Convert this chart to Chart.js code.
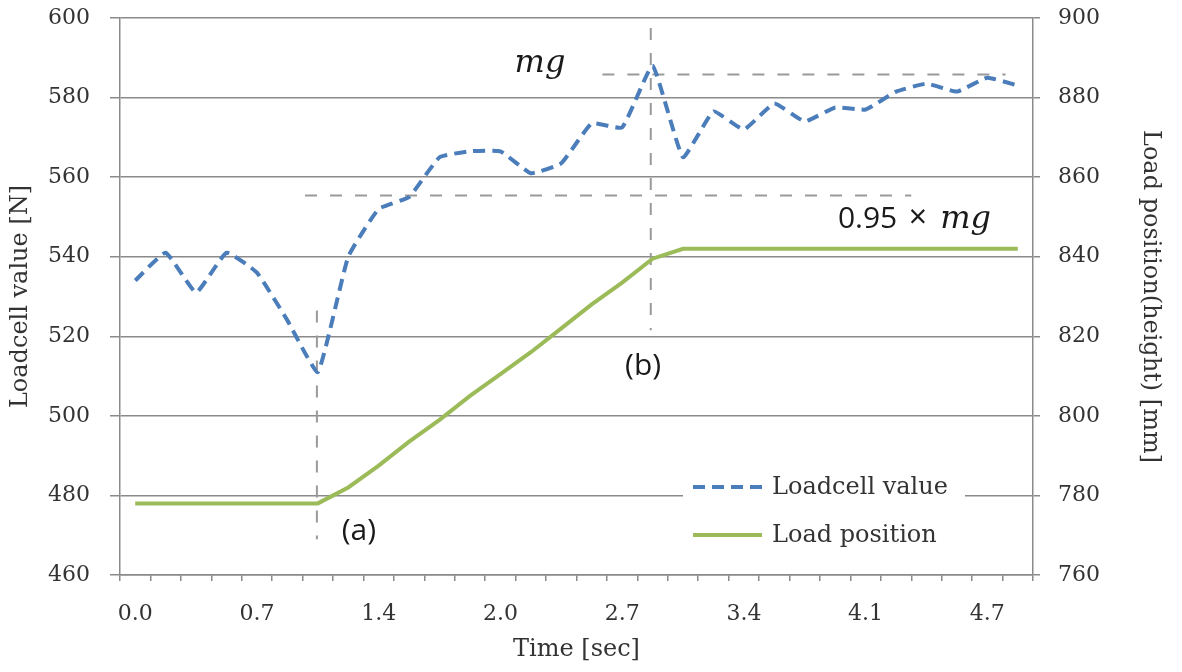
<!DOCTYPE html>
<html>
<head>
<meta charset="utf-8">
<script src="https://cdn.jsdelivr.net/npm/chart.js@4.4.1/dist/chart.umd.min.js"></script>
<style>
  html, body { margin: 0; padding: 0; background: #fff; }
  #wrap { width: 1182px; height: 672px; }
</style>
</head>
<body>
<div id="wrap"><canvas id="loadChart" width="1182" height="672"></canvas></div>
<script>
// sample times [sec] (only every 4th one is printed on the axis)
const times = ['0.0','0.2','0.3','0.5','0.7','0.8','1.0','1.2','1.4','1.5',
               '1.7','1.9','2.0','2.2','2.4','2.5','2.7','2.9','3.0','3.2',
               '3.4','3.5','3.7','3.9','4.1','4.2','4.4','4.6','4.7','4.9'];

// Loadcell value [N]
const loadcell = [534, 541, 531, 541, 536, 524, 511, 540, 552, 555,
                  565, 566.5, 566.5, 561, 563.5, 573.5, 572.5, 588, 565, 576.5,
                  572, 578.5, 574, 577.5, 577, 581.5, 583.5, 581.5, 585, 583];

// Load position (height) [mm]
const position = [778, 778, 778, 778, 778, 778, 778, 782, 787.5, 793.5,
                  799, 805, 810.5, 816, 822, 828, 833.5, 839.5, 842, 842,
                  842, 842, 842, 842, 842, 842, 842, 842, 842, 842];

const leftTicks = [460, 600, 20];
const rightTicks = [760, 900, 20];

// reference marks, in data units (x = sample index, y = loadcell scale)
const refLines = [
  { x0: 5.97, x1: 5.97, y0: 526.5, y1: 469 },     // (a) start of lift
  { x0: 16.94, x1: 16.94, y0: 597.5, y1: 521.5 }, // (b) peak
  { x0: 15.35, x1: 28.6, y0: 585.8, y1: 585.8 },  // mg
  { x0: 5.58, x1: 25.5, y0: 555.4, y1: 555.4 }    // 0.95 mg
];
const refTexts = [
  { text: 'mg', x: 13.3, y: 586.4, align: 'center', base: 'alphabetic', font: 'italic 32px "DejaVu Serif"' },
  { text: '0.95', x: 23.09, y: 547.2, align: 'left', base: 'alphabetic', font: '30px "Open Sans"' },
  { text: '×', x: 25.72, y: 547.2, align: 'center', base: 'alphabetic', font: '32px "Open Sans"' },
  { text: 'mg', x: 26.45, y: 547.2, align: 'left', base: 'alphabetic', font: 'italic 32px "DejaVu Serif"' },
  { text: '(a)', x: 7.35, y: 471, align: 'center', base: 'middle', font: '30px "Open Sans"' },
  { text: '(b)', x: 16.69, y: 512.4, align: 'center', base: 'middle', font: '30px "Open Sans"' }
];

const gridGray = '#8a8a8a';
const textGray = '#333333';
const serif = '"DejaVu Serif", serif';

const refMarks = {
  id: 'refMarks',
  beforeDatasetsDraw(chart) {
    const ctx = chart.ctx, xs = chart.scales.x, ys = chart.scales.y;
    ctx.save();
    ctx.strokeStyle = '#9a9a9a';
    ctx.lineWidth = 2;
    ctx.setLineDash([12, 13]);
    refLines.forEach(l => {
      ctx.beginPath();
      ctx.moveTo(xs.getPixelForValue(l.x0), ys.getPixelForValue(l.y0));
      ctx.lineTo(xs.getPixelForValue(l.x1), ys.getPixelForValue(l.y1));
      ctx.stroke();
    });
    ctx.restore();
  },
  afterDraw(chart) {
    const ctx = chart.ctx, xs = chart.scales.x, ys = chart.scales.y;
    const area = chart.chartArea;
    ctx.save();
    // legend inside the plot, bottom right
    const bx = area.right - 350, by = area.bottom - 105;
    ctx.fillStyle = '#fff';
    ctx.fillRect(bx, by, 282, 85);
    chart.data.datasets.forEach((ds, i) => {
      const ly = by + 17 + i * 48;
      ctx.strokeStyle = ds.borderColor;
      ctx.lineWidth = ds.borderWidth;
      ctx.setLineDash(ds.borderDash || []);
      ctx.beginPath();
      ctx.moveTo(bx + 10, ly);
      ctx.lineTo(bx + 79, ly);
      ctx.stroke();
      ctx.setLineDash([]);
      ctx.fillStyle = textGray;
      ctx.font = '24px ' + serif;
      ctx.textAlign = 'left';
      ctx.textBaseline = 'middle';
      ctx.fillText(ds.label, bx + 89, ly + 1);
    });
    // annotation texts
    ctx.fillStyle = '#1a1a1a';
    refTexts.forEach(t => {
      ctx.font = t.font;
      ctx.textAlign = t.align;
      ctx.textBaseline = t.base;
      ctx.fillText(t.text, xs.getPixelForValue(t.x), ys.getPixelForValue(t.y));
    });
    ctx.restore();
  }
};

// keep the plot top where the reference has it (ignore label overflow padding)
function fixY(width) {
  return s => { s.width = width; s.paddingTop = 0; s.paddingBottom = 0; };
}

new Chart(document.getElementById('loadChart'), {
  type: 'line',
  data: {
    labels: times,
    datasets: [
      {
        label: 'Loadcell value',
        data: loadcell,
        yAxisID: 'y',
        borderColor: '#4A7DBA',
        borderWidth: 4,
        borderDash: [12, 7],
        pointRadius: 0,
        tension: 0.12,
        fill: false
      },
      {
        label: 'Load position',
        data: position,
        yAxisID: 'y1',
        borderColor: '#9BBB59',
        borderWidth: 4,
        pointRadius: 0,
        tension: 0,
        fill: false
      }
    ]
  },
  options: {
    responsive: false,
    animation: false,
    layout: { padding: { left: 6, right: 17, top: 18, bottom: 8 } },
    plugins: {
      legend: { display: false },
      tooltip: { enabled: false }
    },
    scales: {
      x: {
        type: 'category',
        offset: true,
        afterFit: s => { s.height = 89; },
        grid: { drawOnChartArea: false, drawTicks: true, tickLength: 6, color: gridGray, lineWidth: 1.5, offset: true },
        border: { color: gridGray, width: 1.5 },
        ticks: {
          autoSkip: false,
          maxRotation: 0,
          padding: 20,
          color: textGray,
          font: { family: serif, size: 22 },
          callback: function (v, i) { return i % 4 === 0 ? this.getLabelForValue(v) : ''; }
        },
        title: { display: true, text: 'Time [sec]', color: textGray, font: { family: serif, size: 24 }, padding: 0 }
      },
      y: {
        position: 'left',
        min: leftTicks[0], max: leftTicks[1],
        afterFit: fixY(114),
        grid: { color: gridGray, lineWidth: 1.5, tickLength: 10 },
        border: { color: gridGray, width: 1.5 },
        ticks: { stepSize: leftTicks[2], padding: 20, color: textGray, font: { family: serif, size: 22 } },
        title: { display: true, text: 'Loadcell value [N]', color: textGray, font: { family: serif, size: 24 }, padding: 0 }
      },
      y1: {
        position: 'right',
        min: rightTicks[0], max: rightTicks[1],
        afterFit: fixY(132),
        grid: { drawOnChartArea: false, color: gridGray, lineWidth: 1.5, tickLength: 7 },
        border: { color: gridGray, width: 1.5 },
        ticks: { stepSize: rightTicks[2], padding: 18, color: textGray, font: { family: serif, size: 22 } },
        title: { display: true, text: 'Load position(height) [mm]', color: textGray, font: { family: serif, size: 24 }, padding: 0 }
      }
    }
  },
  plugins: [refMarks]
});
</script>
</body>
</html>
